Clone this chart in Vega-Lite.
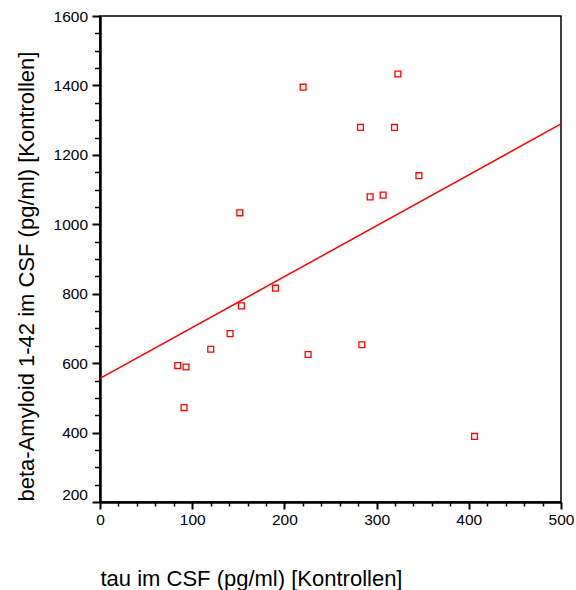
{
  "$schema": "https://vega.github.io/schema/vega-lite/v6.json",
  "width": 461,
  "height": 486,
  "autosize": "none",
  "padding": {"left": 100, "top": 16, "right": 15, "bottom": 88},
  "background": "white",
  "config": {
    "view": {"stroke": "#000000", "strokeWidth": 1.5},
    "axis": {
      "labelFont": "Liberation Sans",
      "titleFont": "Liberation Sans",
      "labelFontSize": 15.5,
      "titleFontSize": 22,
      "titleFontWeight": "normal",
      "labelColor": "#000000",
      "titleColor": "#000000",
      "domainColor": "#000000",
      "tickColor": "#000000",
      "domainOpacity": 1,
      "tickOpacity": 1,
      "grid": false
    }
  },
  "datasets": {
    "points": [
      {"tau": 84.3, "abeta": 593},
      {"tau": 93.3, "abeta": 589},
      {"tau": 91.2, "abeta": 472},
      {"tau": 120.1, "abeta": 640},
      {"tau": 141.1, "abeta": 685},
      {"tau": 151.6, "abeta": 1033},
      {"tau": 153.4, "abeta": 765},
      {"tau": 190.3, "abeta": 816},
      {"tau": 220.3, "abeta": 1395},
      {"tau": 225.7, "abeta": 625},
      {"tau": 282.5, "abeta": 1279},
      {"tau": 284.0, "abeta": 653},
      {"tau": 293.0, "abeta": 1079},
      {"tau": 307.1, "abeta": 1084},
      {"tau": 319.4, "abeta": 1279},
      {"tau": 323.1, "abeta": 1433},
      {"tau": 345.9, "abeta": 1140},
      {"tau": 406.2, "abeta": 389}
    ],
    "fit": [
      {"tau": 0, "abeta": 556},
      {"tau": 500, "abeta": 1289}
    ]
  },
  "layer": [
    {
      "data": {"name": "fit"},
      "mark": {"type": "line", "color": "#ff0000", "strokeWidth": 1.5},
      "encoding": {
        "x": {
          "field": "tau", "type": "quantitative",
          "scale": {"domain": [0, 500], "nice": false, "zero": false},
          "axis": {
            "orient": "bottom",
            "values": [0, 100, 200, 300, 400, 500],
            "format": "d",
            "tickSize": 7, "tickWidth": 2, "domainWidth": 2.5,
            "domainColor": "#000000", "tickColor": "#000000", "labelColor": "#000000",
            "labelPadding": 3, "labelFlush": false,
            "title": "tau im CSF (pg/ml) [Kontrollen]",
            "titleX": 0, "titleY": 83,
            "titleAlign": "left", "titleBaseline": "alphabetic", "titleAnchor": "start"
          }
        },
        "y": {
          "field": "abeta", "type": "quantitative",
          "scale": {"domain": [200, 1600], "nice": false, "zero": false},
          "axis": {
            "orient": "left",
            "values": [200, 400, 600, 800, 1000, 1200, 1400, 1600],
            "format": "d",
            "tickSize": 8, "tickWidth": 2, "domainWidth": 2.5,
            "domainColor": "#000000", "tickColor": "#000000", "labelColor": "#000000",
            "labelPadding": 4.5, "labelFlush": false,
            "labelBaseline": {"condition": {"test": "datum.value == 200", "value": "bottom"}, "value": "middle"},
            "title": "beta-Amyloid 1-42 im CSF (pg/ml) [Kontrollen]",
            "titleAngle": -90,
            "titleX": -67, "titleY": 485,
            "titleAlign": "left", "titleBaseline": "alphabetic", "titleAnchor": "start"
          }
        }
      }
    },
    {
      "data": {"name": "points"},
      "mark": {"type": "point", "shape": "square", "size": 34, "color": "#ff0000", "strokeWidth": 1.3, "filled": false, "opacity": 1},
      "encoding": {
        "x": {
          "field": "tau", "type": "quantitative",
          "axis": {
            "orient": "bottom",
            "values": [20, 40, 60, 80, 120, 140, 160, 180, 220, 240, 260, 280, 320, 340, 360, 380, 420, 440, 460, 480],
            "tickSize": 4, "tickWidth": 1.5, "tickColor": "#000000", "domain": false, "labels": false, "title": null
          }
        },
        "y": {
          "field": "abeta", "type": "quantitative",
          "axis": {
            "orient": "left",
            "values": [250, 300, 350, 450, 500, 550, 650, 700, 750, 850, 900, 950, 1050, 1100, 1150, 1250, 1300, 1350, 1450, 1500, 1550],
            "tickSize": 5.5, "tickWidth": 1.5, "tickColor": "#000000", "domain": false, "labels": false, "title": null
          }
        }
      }
    }
  ],
  "resolve": {"axis": {"x": "independent", "y": "independent"}}
}
